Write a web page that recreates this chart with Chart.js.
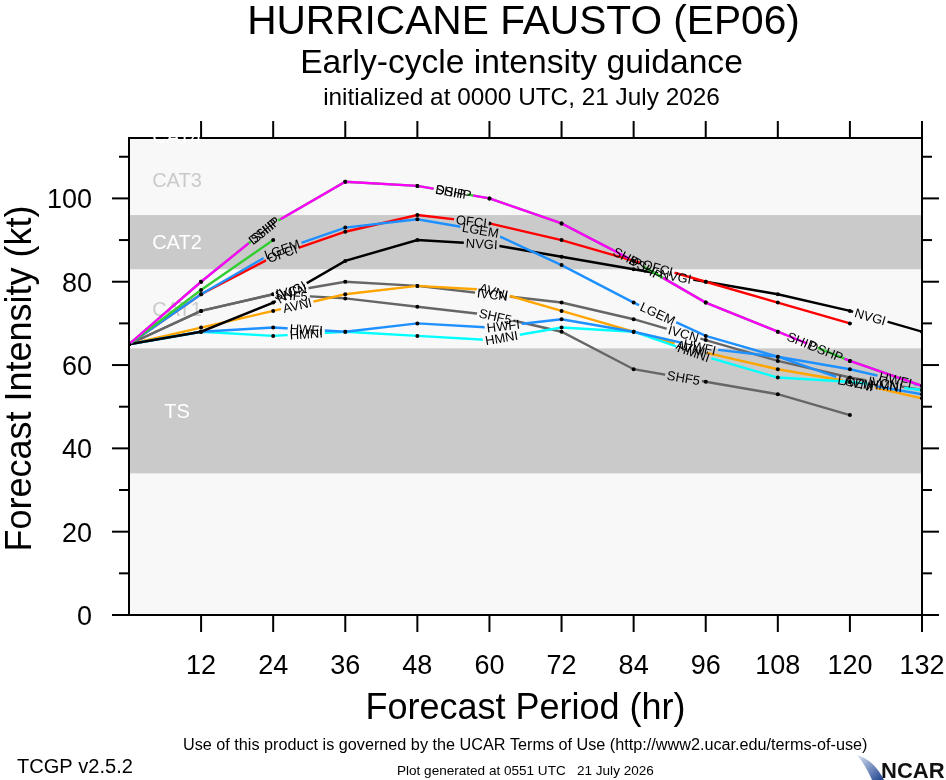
<!DOCTYPE html>
<html>
<head>
<meta charset="utf-8">
<script src="https://cdn.jsdelivr.net/npm/chart.js@4.4.1/dist/chart.umd.min.js"></script>
<style>
html, body { margin: 0; padding: 0; background: #fff; }
canvas { display: block; }
</style>
</head>
<body>
<canvas id="c" width="946" height="780"></canvas>
<script>
// forecast hours
const hours = [0, 12, 24, 36, 48, 60, 72, 84, 96, 108, 120, 132];

// intensity (kt) by model, null = no forecast
const dshp = [65, 80, 94, 104, 103, 100, 94, 85, 75, 68, 61, 55];
const ship = [65, 80, 94, 104, 103, 100, 94, 85, 75, 68, 61, 55];
const shipShort = [65, 78, 90, null, null, null, null, null, null, null, null, null];
const lgem = [65, 77, 87, 93, 95, 92, 84, 75, 67, 62, 56, 53];
const ofci = [65, 77, 86, 92, 96, 94, 90, 85, 80, 75, 70, null];
const nvgi = [65, 68, 75, 85, 90, 89, 86, 83, 80, 77, 73, 68];
const hwfi = [65, 68, 69, 68, 70, 69, 71, 68, 64, 62, 59, 55];
const hmni = [65, 68, 67, 68, 67, 66, 69, 68, 62, 57, 56, 54];
const avni = [65, 69, 73, 77, 79, 78, 73, 68, 63, 59, 56, 52];
const ivcn = [65, 73, 77, 80, 79, 77, 75, 71, 66, 61, 57, 54];
const shf5 = [65, 73, 77, 76, 74, 72, 68, 59, 56, 53, 48, null];

// axis ticks
const xTicks = [12, 24, 36, 48, 60, 72, 84, 96, 108, 120, 132];
const yTicks = [0, 10, 20, 30, 40, 50, 60, 70, 80, 90, 100, 110];
const yLabelled = [0, 20, 40, 60, 80, 100];

// Saffir-Simpson bands (kt)
const bandNames = ['TS', 'CAT1', 'CAT2', 'CAT3', 'CAT4'];
const bandLow = [34, 64, 83, 96, 113];
const bandHigh = [64, 83, 96, 113, 137];

const TITLE = 'HURRICANE FAUSTO (EP06)';
const SUBTITLE = 'Early-cycle intensity guidance';
const INIT = 'initialized at 0000 UTC, 21 July 2026';
const FOOT = 'Use of this product is governed by the UCAR Terms of Use (http://www2.ucar.edu/terms-of-use)';
const GEN = 'Plot generated at 0551 UTC   21 July 2026';
const VER = 'TCGP v2.5.2';

const FF = '"Liberation Sans", Arial, Helvetica, sans-serif';
const LABEL_FONT = '13px ' + FF;

// first entry is drawn on top
const models = [
    { name: 'DSHP', vals: dshp, color: '#ff00ff', labelAt: [22.5, 54, 86, 116] },
    { name: 'SHIP', vals: ship, color: '#33cc33', labelAt: [22.5, 53.5, 83, 112] },
    { name: '', vals: shipShort, color: '#33cc33', labelAt: [] },
    { name: 'LGEM', vals: lgem, color: '#1e90ff', labelAt: [25.5, 58.5, 88, 121] },
    { name: 'OFCI', vals: ofci, color: '#ff0000', labelAt: [25.5, 57, 88] },
    { name: 'NVGI', vals: nvgi, color: '#000000', labelAt: [27, 58.7, 91, 123.4] },
    { name: 'HWFI', vals: hwfi, color: '#1e90ff', labelAt: [29.5, 62.3, 95, 127.6] },
    { name: 'HMNI', vals: hmni, color: '#00ffff', labelAt: [29.5, 62, 94, 126] },
    { name: 'AVNI', vals: avni, color: '#ffa500', labelAt: [28, 60.7, 93.5, 121.5] },
    { name: 'IVCN', vals: ivcn, color: '#666666', labelAt: [27, 60.5, 92.3, 125.6] },
    { name: 'SHF5', vals: shf5, color: '#666666', labelAt: [27, 61, 92.3] }
];

function points(m) {
    return hours.map((h, i) => ({ x: h, y: m.vals[i] })).filter(p => p.y !== null);
}

// label boxes sit on the line, rotated with the segment
function labelBoxes(chart, m) {
    const xs = chart.scales.x, ys = chart.scales.y, ctx = chart.ctx;
    ctx.font = LABEL_FONT;
    const pts = points(m);
    return m.labelAt.map(h => {
        let i = 0;
        while (i < pts.length - 2 && pts[i + 1].x < h) i++;
        const p0 = pts[i], p1 = pts[i + 1];
        const t = (h - p0.x) / (p1.x - p0.x);
        const v = p0.y + t * (p1.y - p0.y);
        const x0 = xs.getPixelForValue(p0.x), y0 = ys.getPixelForValue(p0.y);
        const x1 = xs.getPixelForValue(p1.x), y1 = ys.getPixelForValue(p1.y);
        return {
            x: xs.getPixelForValue(h), y: ys.getPixelForValue(v),
            a: Math.atan2(y1 - y0, x1 - x0),
            w: ctx.measureText(m.name).width + 4, h: 13
        };
    });
}

function fitSize(ctx, s, width, weight) {
    ctx.font = (weight || '') + ' 100px ' + FF;
    return 100 * width / ctx.measureText(s).width;
}

function text(ctx, s, x, y, size, align, color, weight) {
    ctx.font = (weight || '') + ' ' + size + 'px ' + FF;
    ctx.fillStyle = color || '#000';
    ctx.textAlign = align || 'center';
    ctx.textBaseline = 'alphabetic';
    ctx.fillText(s, x, y);
}

function line(ctx, x0, y0, x1, y1) {
    ctx.beginPath();
    ctx.moveTo(x0, y0);
    ctx.lineTo(x1, y1);
    ctx.stroke();
}

const bandPlugin = {
    id: 'bands',
    beforeDatasetsDraw(chart) {
        const ctx = chart.ctx, a = chart.chartArea, ys = chart.scales.y;
        ctx.save();
        ctx.fillStyle = '#f8f8f8';
        ctx.fillRect(a.left, a.top, a.right - a.left, a.bottom - a.top);
        const dark = { TS: true, CAT2: true };
        bandNames.forEach((n, i) => {
            if (!dark[n]) return;
            const yt = ys.getPixelForValue(bandHigh[i]), yb = ys.getPixelForValue(bandLow[i]);
            ctx.fillStyle = '#cacaca';
            ctx.fillRect(a.left, yt, a.right - a.left, yb - yt);
        });
        bandNames.forEach((n, i) => {
            if (n === 'CAT4') return;
            const yc = ys.getPixelForValue((bandLow[i] + bandHigh[i]) / 2);
            text(ctx, n, a.left + 48, yc + 7, 20, 'center', dark[n] ? '#ffffff' : '#cacaca');
        });
        ctx.restore();
    }
};

const gapPlugin = {
    id: 'gaps',
    beforeDatasetDraw(chart, args) {
        const m = models[args.index], ctx = chart.ctx;
        ctx.save();
        ctx.beginPath();
        ctx.rect(0, 0, chart.width, chart.height);
        labelBoxes(chart, m).forEach(b => {
            const c = Math.cos(b.a), s = Math.sin(b.a), hw = b.w / 2, hh = b.h / 2;
            const cs = [[-hw, -hh], [hw, -hh], [hw, hh], [-hw, hh]]
                .map(([u, v]) => [b.x + u * c - v * s, b.y + u * s + v * c]);
            ctx.moveTo(cs[0][0], cs[0][1]);
            cs.slice(1).forEach(p => ctx.lineTo(p[0], p[1]));
            ctx.closePath();
        });
        ctx.clip('evenodd');
    },
    afterDatasetDraw(chart) {
        chart.ctx.restore();
    },
    afterDatasetsDraw(chart) {
        const ctx = chart.ctx;
        ctx.save();
        for (let k = models.length - 1; k >= 0; k--) {
            const m = models[k];
            labelBoxes(chart, m).forEach(b => {
                ctx.save();
                ctx.translate(b.x, b.y);
                ctx.rotate(b.a);
                ctx.font = LABEL_FONT;
                ctx.fillStyle = '#000';
                ctx.textAlign = 'center';
                ctx.textBaseline = 'middle';
                ctx.fillText(m.name, 0, 1);
                ctx.restore();
            });
        }
        ctx.restore();
    }
};

const framePlugin = {
    id: 'frame',
    beforeDraw(chart) {
        const ctx = chart.ctx;
        ctx.save();
        ctx.fillStyle = '#fff';
        ctx.fillRect(0, 0, chart.width, chart.height);
        ctx.restore();
    },
    afterDraw(chart) {
        const ctx = chart.ctx, a = chart.chartArea, xs = chart.scales.x, ys = chart.scales.y;
        ctx.save();
        ctx.strokeStyle = '#000';
        ctx.lineWidth = 2;
        ctx.strokeRect(a.left, a.top, a.right - a.left, a.bottom - a.top);
        xs.ticks.forEach(t => {
            const px = xs.getPixelForValue(t.value);
            line(ctx, px, a.bottom, px, a.bottom + 17);
            line(ctx, px, a.top, px, a.top - 17);
            text(ctx, String(t.value), px, a.bottom + 59, 27);
        });
        ys.ticks.forEach(t => {
            const py = ys.getPixelForValue(t.value);
            const major = yLabelled.includes(t.value);
            const len = major ? 17 : 10;
            line(ctx, a.left - len, py, a.left, py);
            line(ctx, a.right, py, a.right + len, py);
            if (major) text(ctx, String(t.value), a.left - 37, py + 10, 27, 'right');
        });

        // CAT4 label peeks in at the top, white
        text(ctx, 'CAT4', a.left + 48, ys.getPixelForValue(115) + 7, 20, 'center', '#ffffff');

        const cx = (a.left + a.right) / 2;
        text(ctx, TITLE, cx - 2, 34, fitSize(ctx, TITLE, 553));
        text(ctx, SUBTITLE, cx - 4, 73, fitSize(ctx, SUBTITLE, 443));
        text(ctx, INIT, cx - 4, 105, fitSize(ctx, INIT, 397));

        text(ctx, 'Forecast Period (hr)', cx, 719, 36);
        ctx.save();
        ctx.translate(31, (a.top + a.bottom) / 2 + 2);
        ctx.rotate(-Math.PI / 2);
        text(ctx, 'Forecast Intensity (kt)', 0, 0, 36);
        ctx.restore();

        text(ctx, FOOT, 183, 750, fitSize(ctx, FOOT, 685), 'left');
        text(ctx, VER, 17, 773, fitSize(ctx, VER, 116), 'left');
        text(ctx, GEN, 397, 775, fitSize(ctx, GEN, 257), 'left');

        // NCAR mark
        const g = ctx.createLinearGradient(856, 754, 884, 780);
        g.addColorStop(0, '#e3eef8');
        g.addColorStop(1, '#1a3d8c');
        ctx.fillStyle = g;
        ctx.beginPath();
        ctx.moveTo(857, 755);
        ctx.quadraticCurveTo(874, 760, 884, 780);
        ctx.lineTo(872, 780);
        ctx.quadraticCurveTo(866, 766, 857, 755);
        ctx.fill();
        text(ctx, 'NCAR', 881, 778, 22, 'left', '#111', 'bold');
        ctx.restore();
    }
};

new Chart(document.getElementById('c'), {
    type: 'line',
    data: {
        datasets: models.map(m => ({
            label: m.name,
            data: points(m),
            borderColor: m.color,
            borderWidth: 2.4,
            pointRadius: 2,
            pointBackgroundColor: '#000',
            pointBorderWidth: 0,
            tension: 0,
            fill: false
        }))
    },
    options: {
        responsive: false,
        animation: false,
        devicePixelRatio: 1,
        layout: { padding: { left: 0, right: 24, top: 138, bottom: 0 } },
        plugins: { legend: { display: false }, tooltip: { enabled: false } },
        scales: {
            x: {
                type: 'linear', min: 0, max: 132,
                grid: { display: false }, border: { display: false }, ticks: { display: false },
                afterBuildTicks: s => { s.ticks = xTicks.map(v => ({ value: v })); },
                afterFit: s => { s.height = 165; }
            },
            y: {
                type: 'linear', min: 0, max: 114.5,
                grid: { display: false }, border: { display: false }, ticks: { display: false },
                afterBuildTicks: s => { s.ticks = yTicks.map(v => ({ value: v })); },
                afterFit: s => { s.width = 129; }
            }
        }
    },
    plugins: [framePlugin, bandPlugin, gapPlugin]
});
</script>
</body>
</html>
